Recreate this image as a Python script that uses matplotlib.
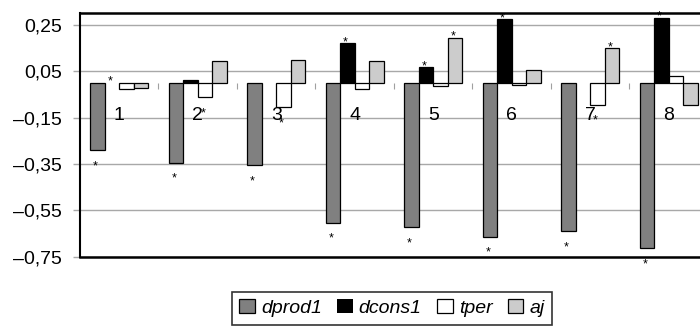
import matplotlib.pyplot as plt
import numpy as np

plt.rcParams['font.family'] = ['Liberation Sans', 'DejaVu Sans']

# --- data ---
categories = ['1', '2', '3', '4', '5', '6', '7', '8']
series_names = ['dprod1', 'dcons1', 'tper', 'aj']

dprod1 = [-0.290, -0.344, -0.356, -0.603, -0.622, -0.664, -0.641, -0.714]
dcons1 = [0.000, 0.014, 0.000, 0.172, 0.068, 0.274, 0.000, 0.281]
tper = [-0.025, -0.061, -0.104, -0.025, -0.014, -0.008, -0.094, 0.028]
aj = [-0.020, 0.093, 0.097, 0.093, 0.195, 0.054, 0.150, -0.097]

# 1 = significant (asterisk drawn next to the bar)
dprod1_sig = [1, 1, 1, 1, 1, 1, 1, 1]
dcons1_sig = [1, 0, 0, 1, 1, 1, 0, 1]
tper_sig = [0, 1, 1, 0, 0, 0, 1, 0]
aj_sig = [0, 0, 0, 0, 1, 0, 1, 0]

y_ticks = [0.25, 0.05, -0.15, -0.35, -0.55, -0.75]

series = [dprod1, dcons1, tper, aj]
sigs = [dprod1_sig, dcons1_sig, tper_sig, aj_sig]
colors = ['#808080', '#000000', '#ffffff', '#cccccc']

# --- plotting ---
fig = plt.figure(figsize=(7, 3.27), dpi=100)
ax = fig.add_axes([0.1143, 0.215, 0.897, 0.744])

x = np.arange(len(categories))
w = 0.185

for k, (name, vals, sig, col) in enumerate(zip(series_names, series, sigs, colors)):
    pos = x + (k - 1.5) * w
    lws = [0.9 if v != 0 else 0 for v in vals]
    ax.bar(pos, vals, w, color=col, edgecolor='black', linewidth=lws,
           label=name, zorder=3)
    for p, v, s in zip(pos, vals, sig):
        if not s:
            continue
        dy = -2 if v >= 0 else -19
        ax.annotate('*', xy=(p, v), xytext=(-2, dy), textcoords='offset pixels',
                    ha='center', va='baseline', fontsize=9, zorder=5)

# category numbers inside the plot
for xi, cat in zip(x, categories):
    ax.text(xi, -0.162, cat, ha='center', va='baseline', fontsize=14, zorder=4)

ax.set_xlim(-0.5, 7.5)
ax.set_ylim(-0.75, 0.30)
ax.set_xticks([])
ax.set_yticks(y_ticks)
ax.set_yticklabels([f"{v:.2f}".replace('.', ',').replace('-', '\u2013') for v in y_ticks],
                   fontsize=14)
ax.tick_params(axis='y', length=5, width=1, color='#a8a8a8', pad=8)

ax.set_axisbelow(True)
ax.yaxis.grid(True, color='#a8a8a8', linewidth=1)

ax.spines['right'].set_visible(False)
ax.spines['top'].set_linewidth(1.8)
ax.spines['bottom'].set_linewidth(1.8)
ax.spines['left'].set_linewidth(1.5)

# category separators along the zero line
sec = ax.secondary_xaxis(0, transform=ax.transData)
sec.set_xticks(np.arange(0.5, len(categories) - 0.5, 1))
sec.tick_params(axis='x', length=4, width=0.8, color='#a0a0a0', labelbottom=False)
sec.spines['bottom'].set_visible(False)
sec.spines['top'].set_visible(False)

leg = fig.legend(loc='upper left', bbox_to_anchor=(0.331, 0.108),
                 bbox_transform=fig.transFigure, ncol=4, fontsize=14,
                 frameon=True, fancybox=False, edgecolor='black',
                 handlelength=0.8, handleheight=0.7, handletextpad=0.3,
                 columnspacing=0.8, borderpad=0.4, borderaxespad=0)
leg.get_frame().set_linewidth(1.2)
for t in leg.get_texts():
    t.set_fontstyle('italic')

fig.savefig('out.png', dpi=100)
